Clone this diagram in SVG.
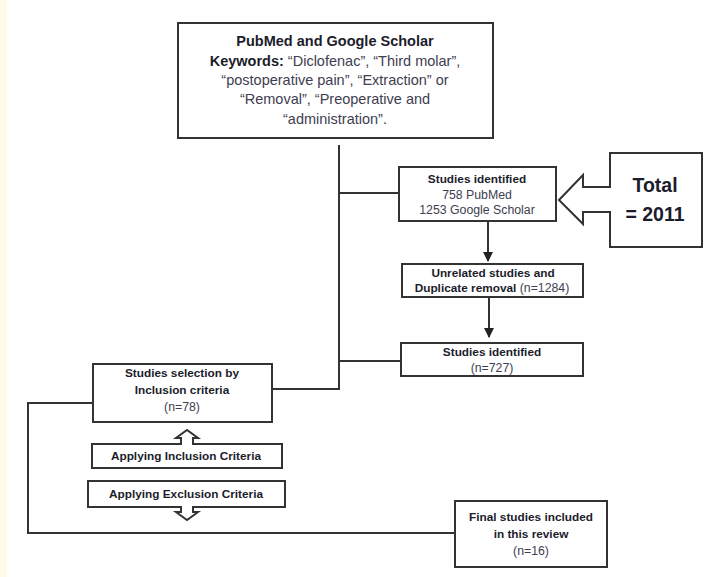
<svg xmlns="http://www.w3.org/2000/svg" width="719" height="577" viewBox="0 0 719 577">
<defs>
<style>
.box{fill:#fff;stroke:#333;stroke-width:2}
.ln{fill:none;stroke:#333;stroke-width:2}
.t{font-family:"Liberation Sans",Arial,sans-serif;fill:#3e3e50;text-anchor:middle}
.b{font-weight:bold;fill:#1c1c2c}
.s13{font-size:14.5px}
.s11{font-size:12.3px}
.bb{font-size:11.8px}
</style>
<marker id="ah" viewBox="0 0 10 10" refX="9" refY="5" markerWidth="5" markerHeight="5" orient="auto" markerUnits="strokeWidth">
<path d="M0,0 L10,5 L0,10 z" fill="#222"/>
</marker>
</defs>
<rect x="0" y="0" width="719" height="577" fill="#fff"/>
<rect x="0" y="0" width="7" height="577" fill="#fffbe6"/>

<g id="connectors">
<path class="ln" d="M339,145 V389 H272"/>
<path class="ln" d="M339,193 H399"/>
<path class="ln" d="M339,361 H400"/>
<path class="ln" d="M488,221 V261" marker-end="url(#ah)"/>
<path class="ln" d="M489,297 V337" marker-end="url(#ah)"/>
<path class="ln" d="M95,403 H28 V533 H455"/>
</g>

<g id="source">
<rect class="box" x="178" y="23" width="315" height="115"/>
<text class="t s13" x="335" y="46"><tspan class="b">PubMed and Google Scholar</tspan></text>
<text class="t s13" x="335" y="66"><tspan class="b">Keywords:</tspan> “Diclofenac”, “Third molar”,</text>
<text class="t s13" x="335" y="85">“postoperative pain”, “Extraction” or</text>
<text class="t s13" x="335" y="104">“Removal”, “Preoperative and</text>
<text class="t s13" x="335" y="124">“administration”.</text>
</g>

<g id="identified">
<rect class="box" x="399" y="167" width="157" height="54"/>
<text class="t bb b" x="477" y="183">Studies identified</text>
<text class="t s11" x="477" y="199">758 PubMed</text>
<text class="t s11" x="477" y="214">1253 Google Scholar</text>
</g>

<g id="total">
<path class="box" d="M559,200 L583,175 V187 H610 V153 H702 V247 H610 V212 H583 V224 Z"/>
<text class="t b" x="655" y="192" font-size="19.5">Total</text>
<text class="t b" x="655" y="221" font-size="19.5">= 2011</text>
</g>

<g id="unrelated">
<rect class="box" x="402" y="264" width="181" height="33"/>
<text class="t bb b" x="493" y="277">Unrelated studies and</text>
<text class="t s11" x="492" y="292"><tspan class="b" font-size="11.8">Duplicate removal</tspan> (n=1284)</text>
</g>

<g id="identified2">
<rect class="box" x="401" y="343" width="182" height="33"/>
<text class="t bb b" x="492" y="356">Studies identified</text>
<text class="t s11" x="492" y="372">(n=727)</text>
</g>

<g id="selection">
<rect class="box" x="93" y="364" width="179" height="58"/>
<text class="t bb b" x="182" y="377">Studies selection by</text>
<text class="t bb b" x="182" y="394">Inclusion  criteria</text>
<text class="t s11" x="182" y="411">(n=78)</text>
</g>

<g id="inclusion">
<path class="box" d="M92,444 H181 V438 H176 L187,430 L198,438 H193 V444 H282 V468 H92 Z"/>
<text class="t bb b" x="186" y="460">Applying Inclusion  Criteria</text>
</g>

<g id="exclusion">
<path class="box" d="M88,481 H285 V507 H193 V512 H198 L187,520 L176,512 H181 V507 H88 Z"/>
<text class="t bb b" x="186" y="498">Applying Exclusion  Criteria</text>
</g>

<g id="final">
<rect class="box" x="455" y="501" width="152" height="66"/>
<text class="t bb b" x="531" y="521">Final studies included</text>
<text class="t bb b" x="531" y="538">in this review</text>
<text class="t s11" x="531" y="555">(n=16)</text>
</g>
</svg>
